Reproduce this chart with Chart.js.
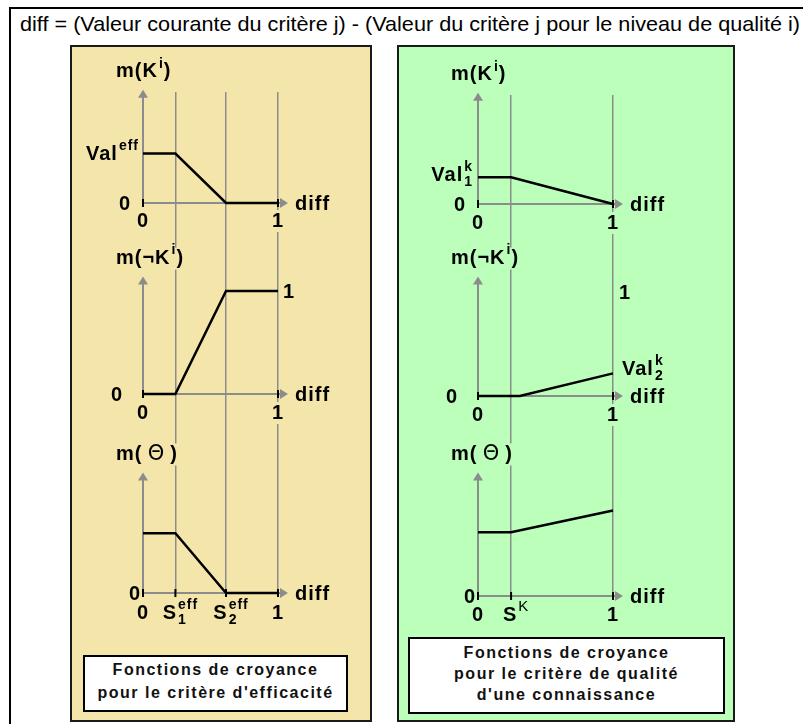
<!DOCTYPE html>
<html lang="fr">
<head>
<meta charset="UTF-8">
<script src="https://cdn.jsdelivr.net/npm/chart.js@4.4.1/dist/chart.umd.min.js"></script>
<style>
  html, body { margin: 0; padding: 0; }
  body {
    width: 803px; height: 724px; position: relative; overflow: hidden;
    background: #fff; font-family: 'Liberation Sans', Arial, sans-serif; color: #000;
  }
  .frame { position: absolute; left: 9px; top: 7px; width: 830px; height: 760px; border: 2px solid #000; }
  .formula {
    position: absolute; left: 20px; top: 13px; font-size: 21px; line-height: 22px; white-space: nowrap;
    transform-origin: 0 0;
  }
  .panel { position: absolute; top: 45px; height: 677px; border: 2px solid #1a1a1a; box-sizing: border-box; }
  #panelEff { left: 70px; width: 302px; background: #F4E6AA; }
  #panelKnow { left: 397px; width: 338px; background: #BBFFBB; }
  .caption {
    position: absolute; background: #fff; border: 2px solid #000; box-sizing: border-box;
    text-align: center; font-weight: bold; font-size: 16px; letter-spacing: 1.5px; color: #111;
  }
  #capEff { left: 83px; top: 655px; width: 265px; height: 57px; line-height: 23px; padding-top: 1px; }
  #capKnow { left: 408px; top: 637px; width: 317px; height: 77px; line-height: 21px; padding-top: 3px; }
  canvas { position: absolute; }
</style>
</head>
<body>
  <div class="frame"></div>
  <div class="formula" id="formula">diff = (Valeur courante du critère j) - (Valeur du critère j pour le niveau de qualité i)</div>
  <div class="panel" id="panelEff"></div>
  <div class="panel" id="panelKnow"></div>

  <canvas id="effK"></canvas>
  <canvas id="effNotK"></canvas>
  <canvas id="effTheta"></canvas>
  <canvas id="knowK"></canvas>
  <canvas id="knowNotK"></canvas>
  <canvas id="knowTheta"></canvas>

  <div class="caption" id="capEff">Fonctions de croyance<br>pour le critère d'efficacité</div>
  <div class="caption" id="capKnow">Fonctions de croyance<br>pour le critère de qualité<br>d'une connaissance</div>

<script>
  // seuils
  const S1_EFF = 0.24;
  const S2_EFF = 0.615;
  const S_K = 0.245;

  // critère d'efficacité
  const effX = [0, S1_EFF, S2_EFF, 1];
  const effMK = [0.48, 0.48, 0, 0];
  const effMNotK = [0, 0, 1, 1];
  const effMTheta = [0.58, 0.58, 0, 0];

  // critère de qualité d'une connaissance
  const knowX = [0, S_K, 1];
  const knowMK = [0.26, 0.26, 0];
  const knowXNotK = [0, 0.31, 1];
  const knowMNotK = [0, 0, 0.22];
  const knowMTheta = [0.62, 0.62, 0.83];

  // graduations de l'axe diff
  const effTicks = [0, S1_EFF, S2_EFF, 1];
  const effTickText = [[{t: '0'}], [{t: 'S'}, {sub: '1', sup: 'eff'}], [{t: 'S'}, {sub: '2', sup: 'eff'}], [{t: '1'}]];
  const knowTicks = [0, S_K, 1];
  const knowTickText = [[{t: '0'}], [{t: 'S'}, {sup: 'K', font: '15px "Liberation Sans", Arial, sans-serif'}], [{t: '1'}]];

  const GRAY = '#8c8c8c';
  const FONT_BIG = 'bold 20px "Liberation Sans", Arial, sans-serif';
  const FONT_SMALL = 'bold 14px "Liberation Sans", Arial, sans-serif';
  const PX_PER_UNIT = 103;

  // stretch the formula line to the width it has in the figure
  const formula = document.getElementById('formula');
  formula.style.transform = 'scaleX(' + (780 / formula.getBoundingClientRect().width) + ')';

  const titleK = [{t: 'm(K'}, {sup: 'i'}, {t: ')'}];
  const titleNotK = [{t: 'm(¬K'}, {sup: 'i'}, {t: ')'}];
  const titleTheta = [{t: 'm('}, {t: '\u2009Θ\u2009', font: '21px "DejaVu Sans", sans-serif'}, {t: ')'}];

  const EFF = {left: 72, width: 298, x0: 143, unitX: 135, bg: '#F4E6AA', ticks: effTicks, text: effTickText};
  const KNOW = {left: 399, width: 334, x0: 478, unitX: 135, bg: '#BBFFBB', ticks: knowTicks, text: knowTickText};

  function partWidth(ctx, p) {
    if (p.t !== undefined) {
      ctx.font = p.font || FONT_BIG;
      return ctx.measureText(p.t).width;
    }
    ctx.font = p.font || FONT_SMALL;
    const a = p.sup ? ctx.measureText(p.sup).width : 0;
    const b = p.sub ? ctx.measureText(p.sub).width : 0;
    return Math.max(a, b) + 1;
  }

  function drawRich(ctx, parts, x, y, align, bg) {
    ctx.save();
    ctx.letterSpacing = '1px';
    const ws = parts.map(p => partWidth(ctx, p));
    const total = ws.reduce((a, b) => a + b, 0);
    let cx = align === 'right' ? x - total : align === 'center' ? x - total / 2 : x;
    if (bg) {
      ctx.fillStyle = bg;
      ctx.fillRect(cx - 2, y - 11, total + 4, 22);
    }
    ctx.fillStyle = '#000';
    ctx.textBaseline = 'middle';
    ctx.textAlign = 'left';
    parts.forEach((p, i) => {
      if (p.t !== undefined) {
        ctx.font = p.font || FONT_BIG;
        ctx.fillText(p.t, cx, y);
      } else {
        ctx.font = p.font || FONT_SMALL;
        if (p.sup) ctx.fillText(p.sup, cx + 1, y - 8);
        if (p.sub) ctx.fillText(p.sub, cx + 1, y + 7);
      }
      cx += ws[i];
    });
    ctx.restore();
  }

  function axesPlugin(panel, o) {
    return {
      id: 'axes',
      beforeDatasetsDraw(chart) {
        const {ctx, scales: {x, y}} = chart;
        const px0 = x.getPixelForValue(0), py0 = y.getPixelForValue(0);
        const pxTip = x.getPixelForValue(1) + 10, pyTip = y.getPixelForValue(o.yTip);
        ctx.save();
        ctx.strokeStyle = GRAY;
        ctx.fillStyle = GRAY;
        ctx.lineWidth = 2;
        ctx.beginPath();
        ctx.moveTo(px0, py0); ctx.lineTo(pxTip - 6, py0);
        ctx.moveTo(px0, py0); ctx.lineTo(px0, pyTip + 6);
        ctx.stroke();
        ctx.beginPath();
        ctx.moveTo(pxTip, py0); ctx.lineTo(pxTip - 8, py0 - 5); ctx.lineTo(pxTip - 8, py0 + 5);
        ctx.fill();
        ctx.beginPath();
        ctx.moveTo(px0, pyTip); ctx.lineTo(px0 - 5, pyTip + 8); ctx.lineTo(px0 + 5, pyTip + 8);
        ctx.fill();
        ctx.restore();
      },
      afterDatasetsDraw(chart) {
        const {ctx, scales: {x, y}} = chart;
        const py0 = y.getPixelForValue(0);
        ctx.save();
        ctx.strokeStyle = '#000';
        ctx.lineWidth = 2;
        o.marks.forEach(v => {
          const px = x.getPixelForValue(v);
          ctx.beginPath(); ctx.moveTo(px, py0 - 4); ctx.lineTo(px, py0 + 4); ctx.stroke();
        });
        ctx.restore();

        // étiquettes de l'axe diff
        o.xLab.forEach(i => {
          const v = panel.ticks[i];
          const dx = (v === 0 || v === 1) ? 0 : 5;
          drawRich(ctx, panel.text[i], x.getPixelForValue(v) + dx, py0 + o.xLabDy, 'center', panel.bg);
        });
        drawRich(ctx, [{t: 'diff'}], x.getPixelForValue(1) + 17, py0 + 1, 'left');
        drawRich(ctx, o.title, x.getPixelForValue(0) - 27, y.getPixelForValue(o.yTip) - 18, 'left', panel.bg);
        o.labels.forEach(l => {
          drawRich(ctx, l.p, x.getPixelForValue(l.x) + (l.dx || 0), y.getPixelForValue(l.y) + (l.dy || 0), l.align, l.bg ? panel.bg : null);
        });
      }
    };
  }

  function belief(id, panel, o) {
    const cv = document.getElementById(id);
    cv.style.left = panel.left + 'px';
    cv.style.top = o.top + 'px';
    cv.width = panel.width;
    cv.height = o.bottom - o.top;
    const areaTop = o.areaTop !== undefined ? o.areaTop : o.top;
    const areaBottom = o.areaBottom !== undefined ? o.areaBottom : o.bottom;
    const grid = panel.ticks.filter(v => v !== 0);

    new Chart(cv, {
      type: 'scatter',
      data: {
        datasets: [{
          data: o.xs.map((v, i) => ({x: v, y: o.ys[i]})),
          showLine: true,
          borderColor: '#000',
          borderWidth: 2.5,
          pointRadius: 0,
          clip: false
        }]
      },
      options: {
        responsive: false,
        animation: false,
        events: [],
        layout: {padding: {top: areaTop - o.top, bottom: o.bottom - areaBottom, left: 0, right: 0}},
        plugins: {legend: {display: false}, tooltip: {enabled: false}},
        scales: {
          x: {
            type: 'linear',
            min: (panel.left - panel.x0) / panel.unitX,
            max: (panel.left + panel.width - panel.x0) / panel.unitX,
            afterBuildTicks: s => { s.ticks = grid.map(v => ({value: v})); },
            ticks: {display: false},
            border: {display: false},
            grid: {color: GRAY, lineWidth: 1.5, drawTicks: false}
          },
          y: {
            type: 'linear',
            display: false,
            min: -(areaBottom - o.base) / PX_PER_UNIT,
            max: (o.base - areaTop) / PX_PER_UNIT
          }
        }
      },
      plugins: [axesPlugin(panel, o)]
    });
  }

  // --- critère d'efficacité ---
  belief('effK', EFF, {
    top: 47, bottom: 240, areaTop: 92, base: 203, yTip: 1.10,
    xs: effX, ys: effMK, marks: [0, 1], xLab: [0, 3], xLabDy: 18, title: titleK,
    labels: [
      {p: [{t: '0'}], x: 0, y: 0, dx: -12, dy: 1, align: 'right'},
      {p: [{t: 'Val'}, {sup: 'eff'}], x: 0, y: effMK[0], dx: -4, dy: 1, align: 'right'}
    ]
  });
  belief('effNotK', EFF, {
    top: 240, bottom: 430, base: 394, yTip: 1.14,
    xs: effX, ys: effMNotK, marks: [0, 1], xLab: [0, 3], xLabDy: 19, title: titleNotK,
    labels: [
      {p: [{t: '0'}], x: 0, y: 0, dx: -20, dy: 1, align: 'right'},
      {p: [{t: '1'}], x: 1, y: 1, dx: 5, dy: 1, align: 'left'}
    ]
  });
  belief('effTheta', EFF, {
    top: 430, bottom: 652, areaBottom: 593, base: 593, yTip: 1.17,
    xs: effX, ys: effMTheta, marks: [0, S1_EFF, S2_EFF, 1], xLab: [0, 1, 2, 3], xLabDy: 20, title: titleTheta,
    labels: [
      {p: [{t: '0'}], x: 0, y: 0, dx: -2, dy: 1, align: 'right'}
    ]
  });

  // --- critère de qualité d'une connaissance ---
  belief('knowK', KNOW, {
    top: 47, bottom: 240, areaTop: 95, base: 204, yTip: 1.08,
    xs: knowX, ys: knowMK, marks: [0, 1], xLab: [0, 2], xLabDy: 19, title: titleK,
    labels: [
      {p: [{t: '0'}], x: 0, y: 0, dx: -12, dy: 1, align: 'right'},
      {p: [{t: 'Val'}, {sub: '1', sup: 'k'}], x: 0, y: knowMK[0], dx: -5, dy: -2, align: 'right'}
    ]
  });
  belief('knowNotK', KNOW, {
    top: 240, bottom: 432, base: 396, yTip: 1.16,
    xs: knowXNotK, ys: knowMNotK, marks: [0, 1], xLab: [0, 2], xLabDy: 19, title: titleNotK,
    labels: [
      {p: [{t: '0'}], x: 0, y: 0, dx: -20, dy: 1, align: 'right'},
      {p: [{t: '1'}], x: 1, y: 1, dx: 6, dy: 0, align: 'left'},
      {p: [{t: 'Val'}, {sub: '2', sup: 'k'}], x: 1, y: knowMNotK[2], dx: 9, dy: -4, align: 'left'}
    ]
  });
  belief('knowTheta', KNOW, {
    top: 432, bottom: 634, areaBottom: 596, base: 596, yTip: 1.20,
    xs: knowX, ys: knowMTheta, marks: [0, S_K, 1], xLab: [0, 1, 2], xLabDy: 19, title: titleTheta,
    labels: [
      {p: [{t: '0'}], x: 0, y: 0, dx: -2, dy: 1, align: 'right'}
    ]
  });
</script>
</body>
</html>
